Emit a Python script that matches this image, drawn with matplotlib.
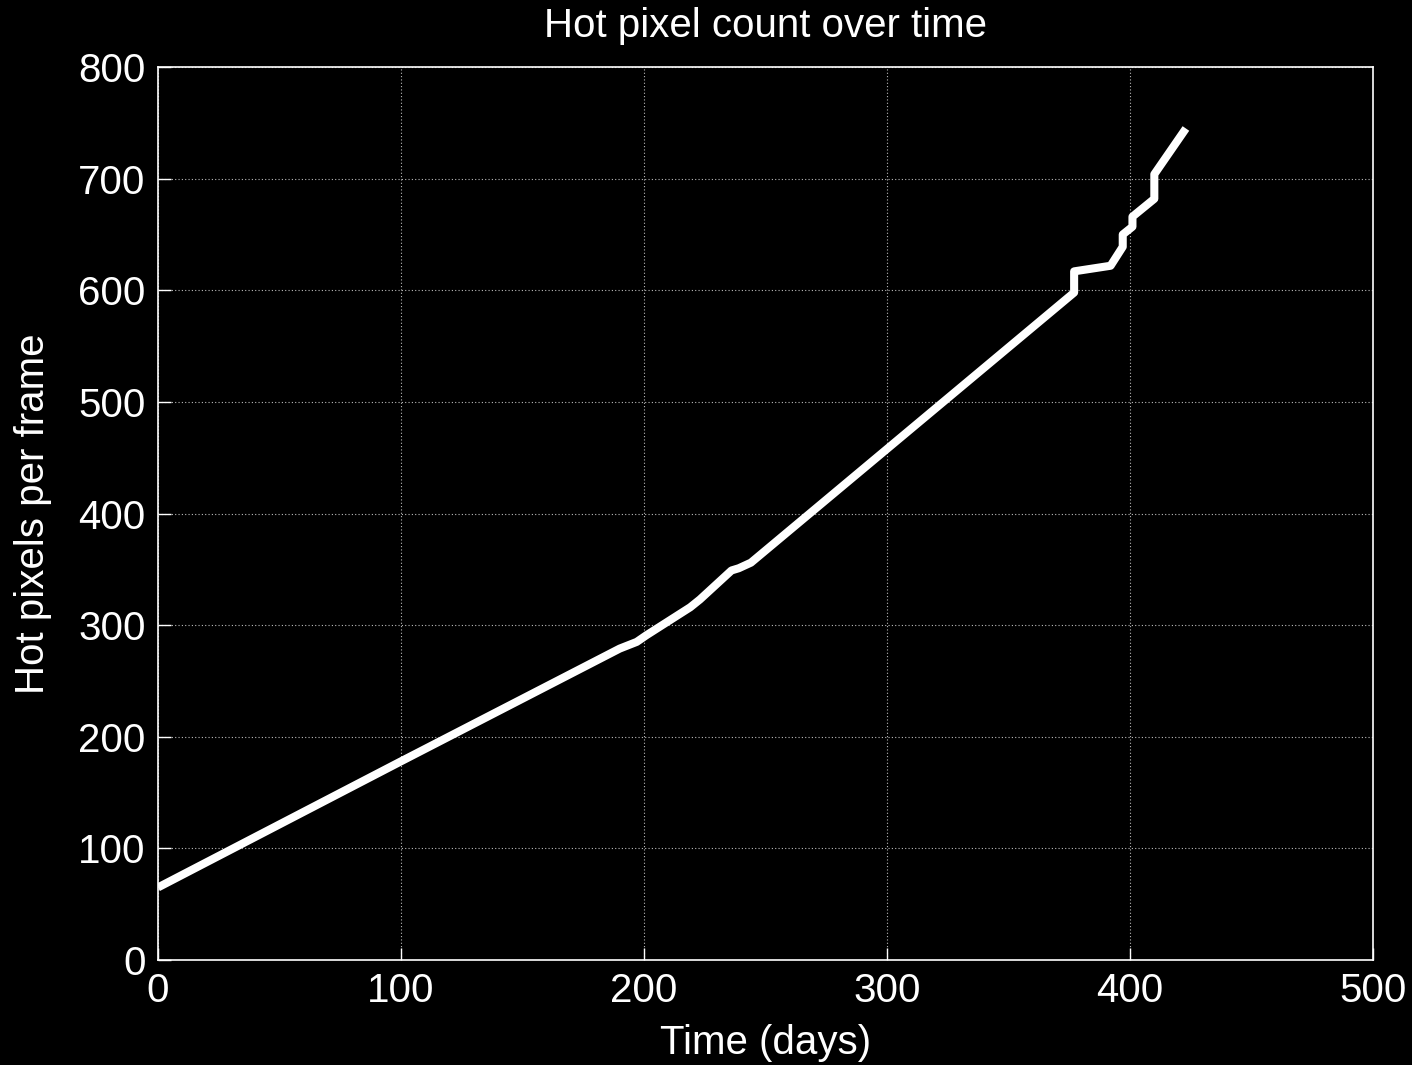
import matplotlib
matplotlib.use("Agg")
import matplotlib.pyplot as plt

days = [0, 100, 190, 197, 201, 219, 223, 236, 239, 244, 377, 377, 392, 397, 397, 401, 401, 410, 410, 423]
hot_pixels = [65, 178, 279, 285, 291, 316, 323, 349, 351, 356, 598, 617, 622, 639, 650, 657, 666, 682, 704, 745]
xticks = [0, 100, 200, 300, 400, 500]
yticks = [0, 100, 200, 300, 400, 500, 600, 700, 800]

plt.rcParams['font.family'] = ['Liberation Sans', 'DejaVu Sans']
fig = plt.figure(figsize=(14.12, 10.65), dpi=100, facecolor='black')
ax = fig.add_axes([0.1119, 0.0986, 0.8605, 0.8384], facecolor='black')
ax.plot(days, hot_pixels, color='white', linewidth=5.8, solid_joinstyle='round',
        solid_capstyle='butt')
ax.set_xlim(0, 500)
ax.set_ylim(0, 800)
ax.set_xticks(xticks)
ax.set_yticks(yticks)
ax.grid(True, color='#bbbbbb', linestyle=(0, (1, 2)), linewidth=0.8)
for s in ax.spines.values():
    s.set_color('white')
    s.set_linewidth(1.2)
ax.tick_params(direction='in', length=9, colors='white', labelsize=29, width=1.0, pad=9)
ax.set_title('Hot pixel count over time', color='white', fontsize=29, pad=22)
ax.set_xlabel('Time (days)', color='white', fontsize=29, labelpad=10)
ax.set_ylabel('Hot pixels per frame', color='white', fontsize=29, labelpad=19)
fig.savefig('out.png', dpi=100, facecolor='black')
